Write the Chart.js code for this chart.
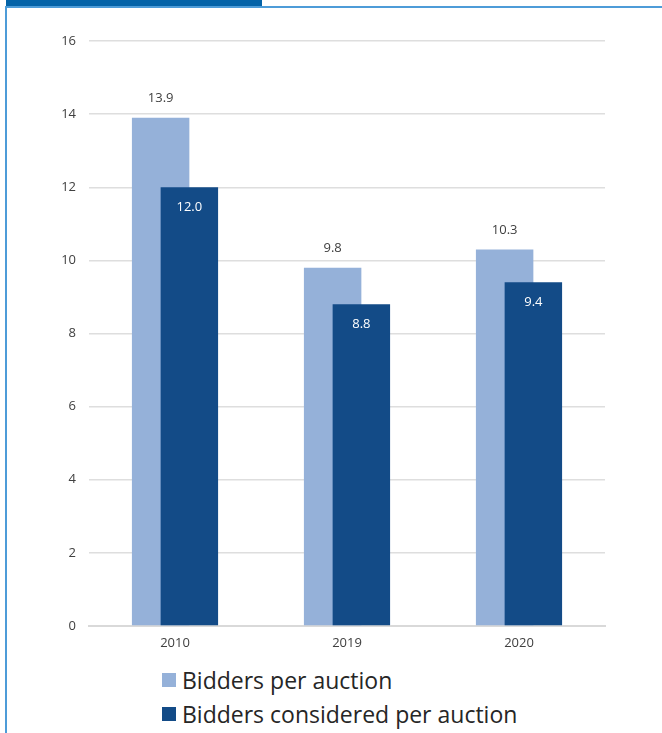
<!DOCTYPE html>
<html>
<head>
<meta charset="utf-8">
<script src="https://cdn.jsdelivr.net/npm/chart.js@4/dist/chart.umd.min.js"></script>
<style>
  html, body { margin: 0; padding: 0; background: #ffffff; }
  body { width: 662px; height: 733px; position: relative; overflow: hidden; font-family: "Open Sans", "Noto Sans", sans-serif; }
  .tab { position: absolute; left: 6px; top: 0; width: 256px; height: 6px; background: #0363a8; }
  .frame-top { position: absolute; left: 5px; top: 6px; width: 657px; height: 2px; background: #4d9cd8; }
  .frame-left { position: absolute; left: 5px; top: 6px; width: 2px; height: 727px; background: #4d9cd8; }
  #wrap { position: absolute; left: 8px; top: 8px; width: 654px; height: 644px; }
  .legend { position: absolute; left: 162px; top: 664px; color: #262626; font-size: 23px; }
  .legend .row { position: relative; height: 34px; white-space: nowrap; }
  .legend .sw { position: absolute; left: 0; top: 9px; width: 14px; height: 14px; }
  .legend .tx { position: absolute; left: 20px; top: 0; line-height: 32px; }
</style>
</head>
<body>
<div class="tab"></div>
<div class="frame-top"></div>
<div class="frame-left"></div>
<div id="wrap"><canvas id="chart"></canvas></div>
<div class="legend" id="legend"></div>

<script>
// Years on the category axis
const years = ['2010', '2019', '2020'];
// Average number of bidders per auction
const biddersPerAuction = [13.9, 9.8, 10.3];
// Average number of bidders considered per auction
const biddersConsidered = [12.0, 8.8, 9.4];
// Y axis ticks
const yTicks = [0, 2, 4, 6, 8, 10, 12, 14, 16];

const seriesNames = ['Bidders per auction', 'Bidders considered per auction'];
const seriesColors = ['#95b1d9', '#134b87'];
const FONT = '"Open Sans", "Noto Sans", sans-serif';

// Draw the bars in dataset order so the second series overlaps the first,
// then put the value labels on them.
const overlapBars = {
  id: 'overlapBars',
  beforeDatasetsDraw(chart) {
    const ctx = chart.ctx;
    const area = chart.chartArea;
    chart.data.datasets.forEach((ds, di) => {
      const meta = chart.getDatasetMeta(di);
      if (!meta.hidden) meta.controller.draw();
    });

    ctx.save();
    ctx.font = '13px ' + FONT;
    ctx.textAlign = 'center';
    ctx.textBaseline = 'middle';
    chart.data.datasets.forEach((ds, di) => {
      const meta = chart.getDatasetMeta(di);
      meta.data.forEach((bar, i) => {
        const txt = ds.data[i].toFixed(1);
        if (di === 0) {
          ctx.fillStyle = '#404040';
          ctx.fillText(txt, bar.x, bar.y - 19);
        } else {
          ctx.fillStyle = '#ffffff';
          ctx.fillText(txt, bar.x, bar.y + 20);
        }
      });
    });
    ctx.restore();
    return false;
  }
};

new Chart(document.getElementById('chart'), {
  type: 'bar',
  data: {
    labels: years,
    datasets: [
      {
        label: seriesNames[0],
        data: biddersPerAuction,
        backgroundColor: seriesColors[0],
        categoryPercentage: 0.334,
        barPercentage: 2
      },
      {
        label: seriesNames[1],
        data: biddersConsidered,
        backgroundColor: seriesColors[1],
        categoryPercentage: 0.334,
        barPercentage: 2
      }
    ]
  },
  options: {
    responsive: true,
    maintainAspectRatio: false,
    animation: false,
    layout: { padding: { top: 33, right: 57, left: 0, bottom: 0 } },
    plugins: {
      legend: { display: false },
      tooltip: { enabled: false }
    },
    scales: {
      x: {
        grid: { display: false, drawTicks: false },
        border: { display: true, color: '#d9d9d9', width: 2 },
        ticks: {
          color: '#404040',
          padding: 9,
          font: { size: 13, family: FONT }
        },
        afterFit(scale) { scale.height = 26; }
      },
      y: {
        min: 0,
        max: 16,
        afterBuildTicks(scale) { scale.ticks = yTicks.map(v => ({ value: v })); },
        grid: { color: '#dedede', lineWidth: 1.5, drawTicks: false },
        border: { display: false },
        ticks: {
          color: '#404040',
          padding: 13,
          font: { size: 13, family: FONT }
        },
        afterFit(scale) { scale.width = 81; }
      }
    }
  },
  plugins: [overlapBars]
});

// Legend below the chart, one series per row
const legend = document.getElementById('legend');
seriesNames.forEach((name, i) => {
  const row = document.createElement('div');
  row.className = 'row';
  const sw = document.createElement('span');
  sw.className = 'sw';
  sw.style.background = seriesColors[i];
  const tx = document.createElement('span');
  tx.className = 'tx';
  tx.textContent = name;
  row.appendChild(sw);
  row.appendChild(tx);
  legend.appendChild(row);
});
</script>
</body>
</html>
